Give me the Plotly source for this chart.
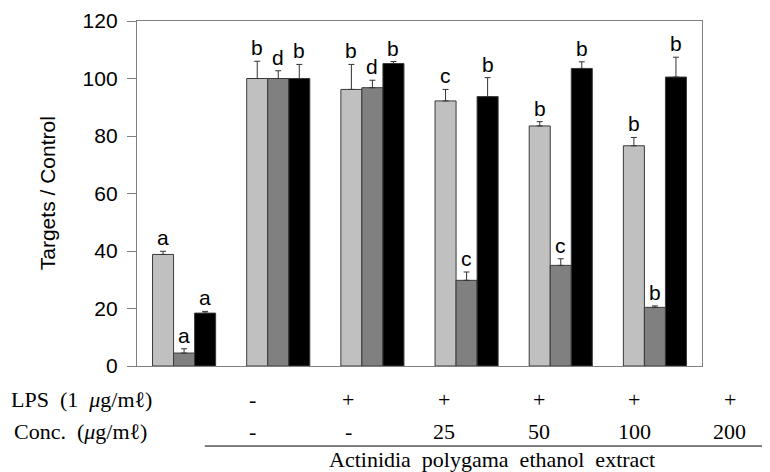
import plotly.graph_objects as go

# ---- data ----
groups = [0, 1, 2, 3, 4, 5]
light_vals = [38.8, 100.0, 96.2, 92.2, 83.5, 76.6]
light_err = [1.1, 6.0, 8.7, 4.0, 1.5, 2.9]
dark_vals = [4.5, 100.0, 96.8, 29.8, 35.0, 20.4]
dark_err = [1.5, 2.7, 2.6, 2.9, 2.3, 0.5]
black_vals = [18.4, 100.0, 105.2, 93.7, 103.5, 100.5]
black_err = [0.6, 4.9, 0.7, 6.6, 2.3, 6.9]
light_letters = ["a", "b", "b", "c", "b", "b"]
dark_letters = ["a", "d", "d", "c", "c", "b"]
black_letters = ["a", "b", "b", "b", "b", "b"]
lps_row = ["-", "+", "+", "+", "+", "+"]
conc_row = ["-", "-", "25", "50", "100", "200"]
y_ticks = [0, 20, 40, 60, 80, 100, 120]

# ---- style ----
colors = ["#c0c0c0", "#808080", "#000000"]
series = [
    (light_vals, light_err, light_letters),
    (dark_vals, dark_err, dark_letters),
    (black_vals, black_err, black_letters),
]
bargap = 0.33
bar_w = (1 - bargap) / 3

fig = go.Figure()
for k, (vals, errs, _) in enumerate(series):
    fig.add_trace(go.Bar(
        x=groups, y=vals,
        marker=dict(color=colors[k], line=dict(color="#3a3a3a", width=1)),
        error_y=dict(type="data", array=errs, arrayminus=[0] * len(errs),
                     symmetric=False, color="#333333", thickness=1, width=3),
        showlegend=False,
    ))

annotations = []
lfont = dict(family="Liberation Sans, Arial, sans-serif", size=21, color="#000")
for k, (vals, errs, letters) in enumerate(series):
    for i, (v, e, t) in enumerate(zip(vals, errs, letters)):
        annotations.append(dict(
            x=groups[i] + (k - 1) * bar_w, y=v + e, xref="x", yref="y",
            text=t, showarrow=False, yanchor="bottom", yshift=0, font=lfont))

# table under plot (positions in paper units)
tfont = dict(family="Liberation Serif, Times New Roman, serif", size=22, color="#000")
col0, colstep = 0.205, 0.1688
for i, (a, b) in enumerate(zip(lps_row, conc_row)):
    xp = col0 + i * colstep
    annotations.append(dict(x=xp, y=-0.098, xref="paper", yref="paper", text=a,
                            showarrow=False, font=tfont, xanchor="center", yanchor="middle"))
    annotations.append(dict(x=xp, y=-0.19, xref="paper", yref="paper", text=b,
                            showarrow=False, font=tfont, xanchor="center", yanchor="middle"))
annotations.append(dict(x=0.03, y=-0.098, xref="paper", yref="paper",
                        text="LPS  (1  <i>μ</i>g/mℓ)", showarrow=False, font=tfont,
                        xanchor="right", yanchor="middle"))
annotations.append(dict(x=0.022, y=-0.19, xref="paper", yref="paper",
                        text="Conc.  (<i>μ</i>g/mℓ)", showarrow=False, font=tfont,
                        xanchor="right", yanchor="middle"))
annotations.append(dict(x=0.628, y=-0.272, xref="paper", yref="paper",
                        text="Actinidia  polygama  ethanol  extract", showarrow=False,
                        font=tfont, xanchor="center", yanchor="middle"))
annotations.append(dict(x=-0.158, y=0.5, xref="paper", yref="paper",
                        text="Targets / Control", textangle=-90, showarrow=False,
                        font=dict(family="Liberation Sans, Arial, sans-serif", size=21, color="#000"),
                        xanchor="center", yanchor="middle"))

fig.update_layout(
    width=762, height=464,
    margin=dict(l=129, r=68, t=13, b=106, autoexpand=False),
    plot_bgcolor="white", paper_bgcolor="white",
    barmode="group", bargap=bargap, bargroupgap=0,
    annotations=annotations,
    shapes=[dict(type="line", xref="paper", yref="paper",
                 x0=0.12, x1=1.13, y0=-0.232, y1=-0.232,
                 line=dict(color="#000", width=1))],
    xaxis=dict(range=[-0.5, 5.5], showticklabels=False, ticks="", showgrid=False,
               zeroline=False, showline=True, linecolor="#808080", linewidth=1.3,
               mirror=True, automargin=False),
    yaxis=dict(range=[0, 120], tickvals=y_ticks, ticks="outside", ticklen=9,
               tickcolor="#808080", tickwidth=1, showgrid=False, zeroline=False,
               showline=True, linecolor="#808080", linewidth=1.3, mirror=True,
               ticklabelstandoff=5, automargin=False,
               tickfont=dict(family="Liberation Sans, Arial, sans-serif", size=21, color="#000")),
)

fig.write_html("out.html")
